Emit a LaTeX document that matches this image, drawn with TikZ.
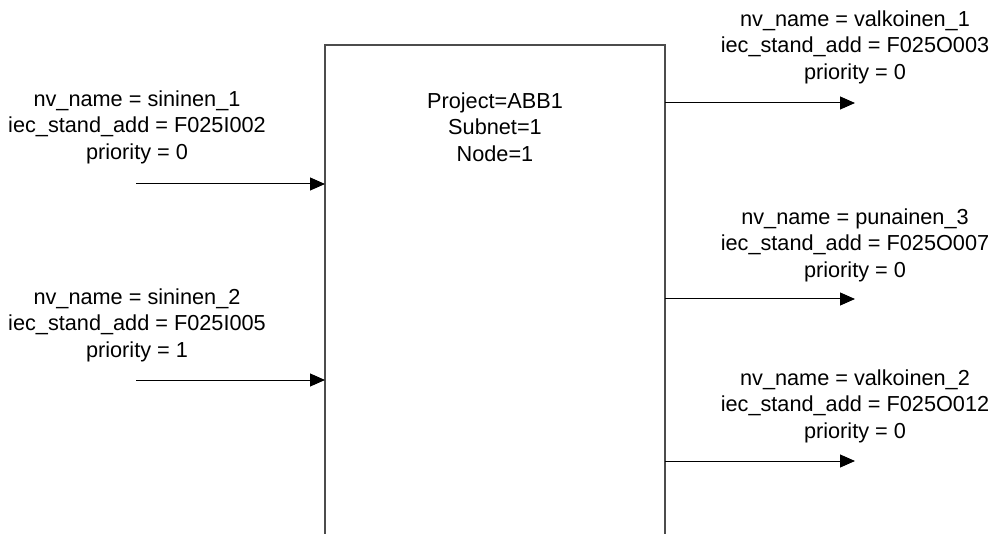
\documentclass[tikz,border=0pt]{standalone}
\usepackage{fontspec}
\setmainfont{Liberation Sans}
\usetikzlibrary{arrows.meta}
\begin{document}
\begin{tikzpicture}[x=1pt,y=-1pt,
  lbl/.style={align=center,inner sep=0pt,font=\fontsize{21.7}{26.5}\selectfont},
  sig/.style={draw=black,line width=1pt,-{Triangle[length=15pt,width=13pt]}},
  blockline/.style={draw=black!70,line width=1.2pt}]
\useasboundingbox (0,0) rectangle (995,534);
% function block: open at the bottom
\coordinate (bl) at (325,534);
\coordinate (tl) at (325,45);
\coordinate (tr) at (665,45);
\coordinate (br) at (665,534);
\draw[blockline] (bl) -- (tl) -- (tr) -- (br);
\node[lbl] (title) at (495,127) {Project=ABB1\\Subnet=1\\Node=1};
% inputs
\coordinate (in1s) at (136,184);
\coordinate (in1e) at (325,184);
\coordinate (in2s) at (136,380);
\coordinate (in2e) at (325,380);
\draw[sig] (in1s) -- (in1e);
\draw[sig] (in2s) -- (in2e);
\node[lbl] (lin1) at (137,127) {nv\_name = sininen\_1\\iec\_stand\_add = F025I002\\priority = 0};
\node[lbl] (lin2) at (137,325) {nv\_name = sininen\_2\\iec\_stand\_add = F025I005\\priority = 1};
% outputs
\coordinate (out1s) at (665,103);
\coordinate (out1e) at (855,103);
\coordinate (out2s) at (665,299);
\coordinate (out2e) at (855,299);
\coordinate (out3s) at (665,461);
\coordinate (out3e) at (855,461);
\draw[sig] (out1s) -- (out1e);
\draw[sig] (out2s) -- (out2e);
\draw[sig] (out3s) -- (out3e);
\node[lbl] (lout1) at (855,47) {nv\_name = valkoinen\_1\\iec\_stand\_add = F025O003\\priority = 0};
\node[lbl] (lout2) at (855,245) {nv\_name = punainen\_3\\iec\_stand\_add = F025O007\\priority = 0};
\node[lbl] (lout3) at (855,406) {nv\_name = valkoinen\_2\\iec\_stand\_add = F025O012\\priority = 0};
\end{tikzpicture}
\end{document}
